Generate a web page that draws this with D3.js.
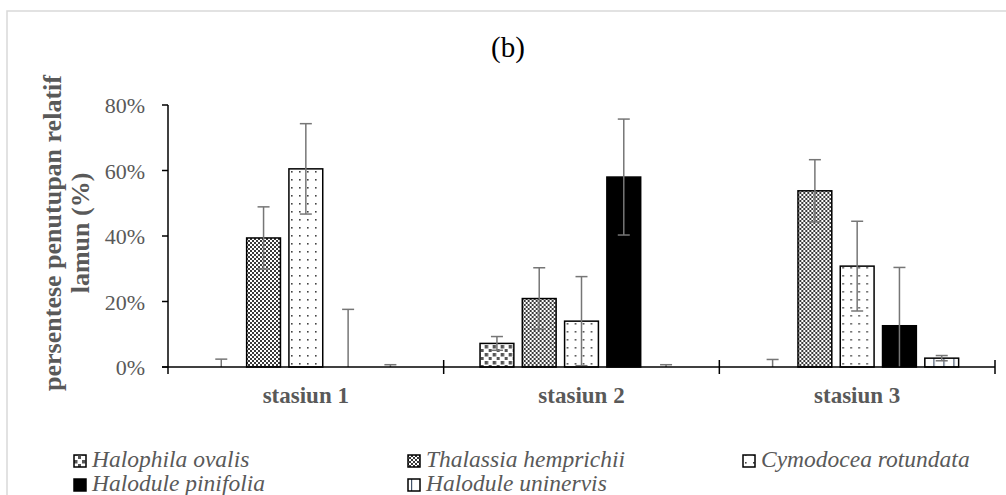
<!DOCTYPE html>
<html lang="id">
<head>
<meta charset="utf-8">
<title>(b) persentese penutupan relatif lamun</title>
<script src="https://cdn.jsdelivr.net/npm/d3@7"></script>
<style>
  body { margin: 0; background: #fff; overflow: hidden; }
  svg { display: block; }
  text { font-family: "Liberation Serif", "Times New Roman", serif; }
  .tick-label { font-size: 22px; fill: #595959; }
  .cat-label { font-size: 23px; font-weight: bold; fill: #595959; }
  .y-title { font-size: 26px; font-weight: bold; fill: #595959; }
  .legend-text { font-size: 23.5px; font-style: italic; fill: #595959; }
</style>
</head>
<body>
<div id="chart"></div>
<script>
  // data (in %)
  const stations = ["stasiun 1", "stasiun 2", "stasiun 3"];
  const species = ["Halophila ovalis", "Thalassia hemprichii", "Cymodocea rotundata",
                   "Halodule pinifolia", "Halodule uninervis"];
  // mean per station, one array per species
  const halophila  = [0,    7.2,  0];
  const thalassia  = [39.4, 20.9, 53.8];
  const cymodocea  = [60.5, 14.0, 30.8];
  const pinifolia  = [0,    58.0, 12.6];
  const uninervis  = [0,    0,    2.7];
  // error (+/-)
  const errHalophila = [2.4, 2.1, 2.3];
  const errThalassia = [9.5, 9.4, 9.5];
  const errCymodocea = [13.8, 13.6, 13.7];
  const errPinifolia = [17.6, 17.7, 17.8];
  const errUninervis = [0.7, 0.7, 0.8];
  const yTicks = [0, 20, 40, 60, 80];

  const means = [halophila, thalassia, cymodocea, pinifolia, uninervis];
  const errs = [errHalophila, errThalassia, errCymodocea, errPinifolia, errUninervis];

  const W = 1006, H = 495;
  const svg = d3.select("#chart").append("svg").attr("width", W).attr("height", H);

  // patterns
  const defs = svg.append("defs");
  const p0 = defs.append("pattern").attr("id", "pat0").attr("patternUnits", "userSpaceOnUse")
    .attr("width", 8).attr("height", 8);
  p0.append("rect").attr("width", 8).attr("height", 8).attr("fill", "#fff");
  p0.append("rect").attr("x", 1).attr("y", 1).attr("width", 3.5).attr("height", 3.5).attr("fill", "#555");
  p0.append("rect").attr("x", 5).attr("y", 5).attr("width", 3.5).attr("height", 3.5).attr("fill", "#555");

  const p1 = defs.append("pattern").attr("id", "pat1").attr("patternUnits", "userSpaceOnUse")
    .attr("width", 4).attr("height", 4);
  p1.append("rect").attr("width", 4).attr("height", 4).attr("fill", "#fff");
  p1.append("rect").attr("width", 2).attr("height", 2).attr("fill", "#3a3a3a");
  p1.append("rect").attr("x", 2).attr("y", 2).attr("width", 2).attr("height", 2).attr("fill", "#3a3a3a");

  const p2 = defs.append("pattern").attr("id", "pat2").attr("patternUnits", "userSpaceOnUse")
    .attr("width", 8).attr("height", 8);
  p2.append("rect").attr("width", 8).attr("height", 8).attr("fill", "#fff");
  p2.append("rect").attr("x", 3).attr("y", 3).attr("width", 1.6).attr("height", 1.6).attr("fill", "#444");

  const p4 = defs.append("pattern").attr("id", "pat4").attr("patternUnits", "userSpaceOnUse")
    .attr("width", 10).attr("height", 10);
  p4.append("rect").attr("width", 10).attr("height", 10).attr("fill", "#fff");
  p4.append("rect").attr("x", 4).attr("width", 1.2).attr("height", 10).attr("fill", "#44546a");

  const fills = ["url(#pat0)", "url(#pat1)", "url(#pat2)", "#000", "url(#pat4)"];

  // frame
  svg.append("rect").attr("x", 7).attr("y", 11).attr("width", W + 20).attr("height", H + 20)
    .attr("fill", "none").attr("stroke", "#d9d9d9").attr("stroke-width", 1.5);

  // scales
  const x0 = d3.scaleBand().domain(stations).range([168, 995]);
  const x1 = d3.scaleBand().domain(species).range([0, x0.bandwidth()])
    .paddingInner(0.2).paddingOuter(0.86);
  const y = d3.scaleLinear().domain([0, 80]).range([367, 105]);

  // title
  svg.append("text").attr("x", 508).attr("y", 57).attr("text-anchor", "middle")
    .style("font-size", "29px").attr("fill", "#000").text("(b)");

  // y title
  const yt = svg.append("text").attr("class", "y-title")
    .attr("transform", "translate(61,233) rotate(-90)").attr("text-anchor", "middle");
  yt.append("tspan").attr("x", 0).attr("y", 0).text("persentese penutupan relatif");
  yt.append("tspan").attr("x", 0).attr("y", 28).text("lamun (%)");

  // y ticks
  const ya = svg.append("g");
  ya.selectAll("line").data(yTicks).join("line")
    .attr("x1", 162).attr("x2", 168).attr("y1", d => y(d)).attr("y2", d => y(d))
    .attr("stroke", "#000").attr("stroke-width", 1.5);
  ya.selectAll("text").data(yTicks).join("text").attr("class", "tick-label")
    .attr("x", 145).attr("y", d => y(d) + 8).attr("text-anchor", "end")
    .text(d => d + "%");

  // bars
  const groups = svg.append("g").selectAll("g").data(stations).join("g")
    .attr("transform", d => `translate(${x0(d)},0)`);

  groups.selectAll("rect").data((s, si) => species.map((sp, k) => ({ sp, k, v: means[k][si], e: errs[k][si] })))
    .join("rect")
    .attr("x", d => x1(d.sp)).attr("width", x1.bandwidth())
    .attr("y", d => y(d.v)).attr("height", d => y(0) - y(d.v))
    .attr("fill", d => fills[d.k])
    .attr("stroke", d => d.v > 0 ? "#000" : "none").attr("stroke-width", 1.5);

  // error bars
  const eb = groups.selectAll("g.err").data((s, si) => species.map((sp, k) => ({ sp, k, v: means[k][si], e: errs[k][si] })))
    .join("g").attr("class", "err")
    .attr("transform", d => `translate(${x1(d.sp) + x1.bandwidth() / 2},0)`);
  eb.append("line").attr("y1", d => y(Math.max(0, d.v - d.e))).attr("y2", d => y(d.v + d.e))
    .attr("stroke", "#767676").attr("stroke-width", 1.5);
  eb.append("line").attr("x1", -6).attr("x2", 6).attr("y1", d => y(d.v + d.e)).attr("y2", d => y(d.v + d.e))
    .attr("stroke", "#767676").attr("stroke-width", 1.5);
  eb.filter(d => d.v - d.e > 0).append("line").attr("x1", -6).attr("x2", 6)
    .attr("y1", d => y(d.v - d.e)).attr("y2", d => y(d.v - d.e))
    .attr("stroke", "#767676").attr("stroke-width", 1.5);

  // axes lines
  svg.append("line").attr("x1", 168).attr("x2", 168).attr("y1", y(80)).attr("y2", 374)
    .attr("stroke", "#000").attr("stroke-width", 1.5);
  svg.append("line").attr("x1", 162).attr("x2", 995).attr("y1", y(0)).attr("y2", y(0))
    .attr("stroke", "#000").attr("stroke-width", 1.5);
  const bounds = stations.map(s => x0(s) + x0.bandwidth());
  svg.append("g").selectAll("line").data(bounds).join("line")
    .attr("x1", d => d).attr("x2", d => d).attr("y1", 360).attr("y2", 374)
    .attr("stroke", "#000").attr("stroke-width", 1.5);

  // category labels
  svg.append("g").selectAll("text").data(stations).join("text").attr("class", "cat-label")
    .attr("x", d => x0(d) + x0.bandwidth() / 2).attr("y", 403).attr("text-anchor", "middle")
    .text(d => d);

  // legend
  const legendPos = [[73, 467], [407, 467], [742, 467], [73, 491], [407, 491]];
  const lg = svg.append("g").selectAll("g").data(species).join("g")
    .attr("transform", (d, i) => `translate(${legendPos[i][0]},${legendPos[i][1]})`);
  lg.append("rect").attr("x", 1).attr("y", -12).attr("width", 12).attr("height", 12)
    .attr("fill", (d, i) => fills[i]).attr("stroke", "#000").attr("stroke-width", 1.5);
  lg.append("text").attr("class", "legend-text").attr("x", 19).attr("y", 0).text(d => d);
</script>
</body>
</html>
